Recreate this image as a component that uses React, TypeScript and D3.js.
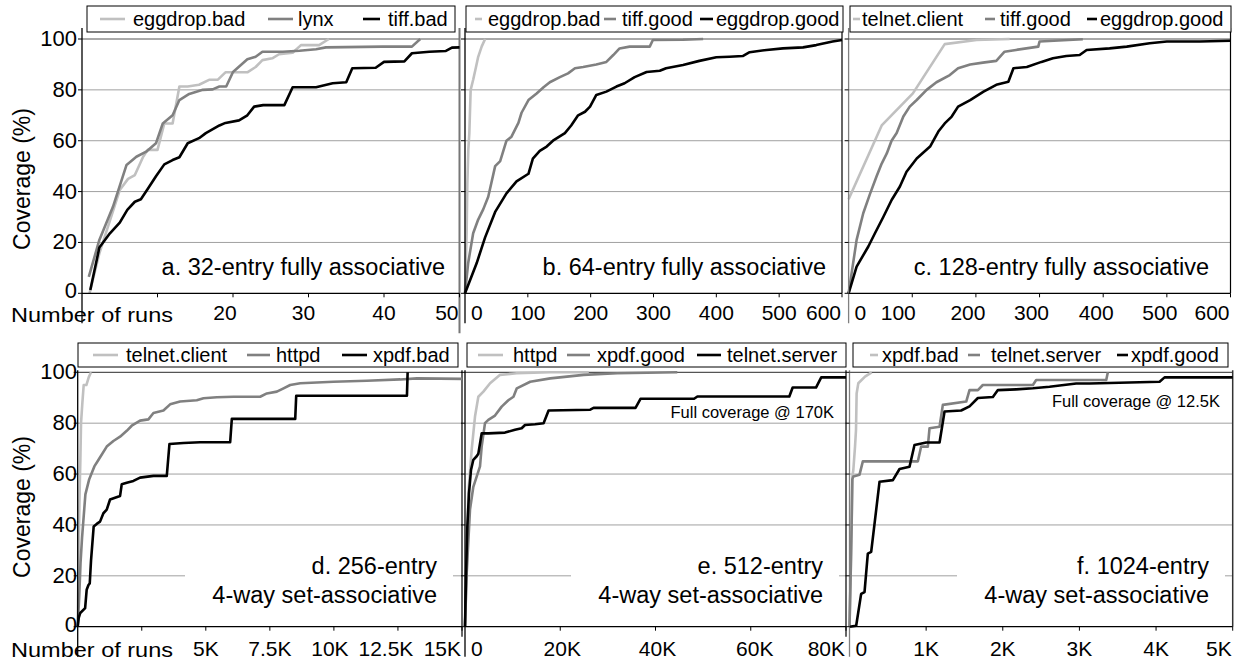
import * as d3 from "d3";

const LIGHT = "#c0c0c0";
const MID = "#808080";
const DARK = "#000000";
const FONT = "'Liberation Sans', Arial, Helvetica, sans-serif";

// ---- data: [number of runs, coverage %] ----
const aEggdropBad = [[1,0],[2.3,15.7],[5,40.6],[6.1,45],[7,46.5],[8.1,53.7],[8.7,56.4],[10,56.4],[10.9,66.8],[12,66.8],[12.9,81.3],[14,81.3],[15.5,82],[16.9,84],[18,84],[19,86.9],[21.9,86.9],[23,89],[23.9,91.7],[25.2,92.4],[26.1,94],[27.9,94.6],[29,97.6],[31.4,97.6],[32.7,100]];
const aLynx = [[0.9,6.5],[2.3,21],[4.1,34],[5.9,50.5],[7.2,53.7],[8.5,55.7],[9.8,59],[10.7,66.8],[12,70],[12.9,76],[14.2,78.4],[16,80],[17.3,80.2],[18.2,81.3],[19.1,81.3],[20,87],[21.9,92],[23,93],[23.9,95],[26.6,95],[28.8,95.4],[31,96],[32.3,96.7],[39.8,97],[43.7,97],[44.8,100]];
const aTiffBad = [[1.1,1.3],[2.3,18],[3.7,23.6],[5,27.8],[6,32.8],[7,36],[7.8,37],[8.7,41],[9.8,46],[10.9,50.7],[12,52.4],[12.9,53.5],[14,59],[15.5,61],[16.4,63],[18.2,66],[19,67],[20.8,68],[21.9,70],[22.8,73.4],[24,74],[26.8,74],[27.9,81],[31,81],[33.2,82.6],[35,83],[35.8,88.5],[38.9,88.7],[40,91],[42.7,91.2],[43.7,94.4],[46,95],[48.2,95.3],[49,96.6],[50,96.7]];

const bEggdropBad = [[0,0],[1,9],[2.6,23.6],[3.7,43],[5.3,56.5],[6.9,63],[9,80],[13,84],[17.5,89],[21,93],[26.5,97],[32,100]];
const bTiffGood = [[0,0],[5,11.8],[13,23.6],[21,29],[29,33],[37,38],[48,50],[56,52],[66,60],[74,61.6],[85,67],[90,71],[101,76],[114,78.6],[125,81],[135,83],[151,85],[164,86.5],[175,88.5],[188,89],[209,90],[225,91],[236,93.7],[246,96.3],[262,97],[294,97],[299,99.6],[347,99.7],[379,100]];
const bEggdropGood = [[0,0],[18.5,11.8],[32,22],[48,32],[66,39.3],[82,44],[101,47],[108,53],[119,56],[130,57.7],[140,60],[159,63],[169,66],[180,70],[191,71.4],[199,73.4],[209,78],[225,79.3],[241,81.3],[254,82.6],[270,85],[289,87],[310,87.5],[320,88.5],[347,89.8],[373,91.4],[400,92.8],[421,93],[442,93.3],[453,94.8],[480,95.7],[506,96.3],[538,96.7],[559,97.6],[585,99],[600,99.6]];

const cTelnetClient = [[0,37],[52,66],[101,78.6],[151,98],[201,99.6],[253,100]];
const cTiffGood = [[0,0],[12.6,21],[23,31.5],[33.5,39],[44,46],[52,51],[60,55],[67.5,60],[75.5,63],[86,69.5],[96,73.4],[107,76],[122.6,80],[138,83],[159,85.8],[172,88.5],[191,90],[211,90.7],[232,91.4],[245,95],[263,95.7],[298,97],[300,99],[368,99.9]];
const cEggdropGood = [[0,0],[12.6,10.5],[31,18.4],[41.4,23.6],[54.5,30],[67.6,36.7],[80.6,42],[91,47.8],[107,53],[128,57.7],[141,63.6],[151,66.8],[162,69.5],[172,73.4],[191,76],[212,79.3],[232,82],[251,83.2],[259,88.5],[280,89],[303,91],[321,92.4],[342,93.3],[363,93.7],[374,95.7],[410,96.3],[437,97],[473,98.3],[500,99],[552,99],[600,99.3]];

const dTelnetClient = [[0,0],[25,20],[52,39],[80,55],[104,65.5],[130,80],[182,88],[234,95],[338,95],[430,98],[520,100]];
const dHttpd = [[0,0],[60,12],[110,25],[170,35],[300,52],[450,58],[650,63],[807,65.5],[1133,70.8],[1393,73],[1654,74.7],[1914,77],[2109,79],[2435,81],[2760,81.5],[2956,84],[3346,85],[3607,87.4],[3997,88.5],[4648,89],[4909,89.8],[5430,90.2],[6081,90.4],[7122,90.4],[7383,91.7],[7773,92.4],[8034,93.7],[8294,95],[8685,95.7],[9987,96.3],[11289,96.7],[12591,97.2],[13242,97.6],[15000,97.4]];
const dXpdfBad = [[0,0],[40,3.5],[100,5.4],[290,7.3],[350,14.5],[420,16.4],[470,17],[520,26],[624,39.4],[754,40.5],[872,41.3],[1003,44.6],[1133,46],[1263,50],[1458,50.7],[1654,51.4],[1719,56],[1914,56.6],[2174,57.3],[2435,58.6],[2956,59.3],[3477,59.3],[3581,71.8],[4128,72.2],[4779,72.5],[5951,72.5],[6016,81.7],[8490,81.7],[8529,90.8],[12851,90.8],[12878,100]];

const eHttpd = [[0,0],[150,10],[350,19.8],[700,52.5],[1400,69.5],[2100,82.6],[2800,90.4],[3860,92.4],[5264,95.7],[7370,99],[10880,99.6],[17900,100],[26000,100]];
const eXpdfGood = [[0,0],[350,21],[1050,46],[1750,55],[2450,59],[3150,63],[3500,70.8],[4200,80],[4900,81.3],[6300,83],[7700,86.5],[9100,89],[10180,90.4],[10880,93.7],[13690,96.3],[17900,97.6],[24920,99],[31940,99.6],[44577,100]];
const eTelnetServer = [[0,0],[210,19.8],[490,39.4],[840,52.5],[1260,61.6],[1750,65.6],[2450,67],[2800,68],[3500,76],[4900,76],[8400,76.3],[10500,77.4],[11900,78],[12600,79.3],[14700,79.6],[16500,80],[17550,85],[26300,85.3],[27000,86],[35800,86],[36850,89.6],[48100,89.6],[48800,90.5],[68100,90.5],[68800,94],[73700,94],[74800,98],[80000,98]];

const fXpdfBad = [[0,0],[15,20],[30,45],[37,59],[50,61.6],[72,70.8],[85,77.4],[93,91.7],[115,95.7],[202,98.3],[289,100]];
const fTelnetServer = [[0,0],[15,20],[28,40],[37,58],[50,59],[130,59.7],[174,65],[892,65],[935,70.8],[1022,70.8],[1044,78],[1175,78.6],[1218,87.2],[1523,88.5],[1566,93],[1675,93],[1740,95],[2393,95],[2436,97],[3350,97],[3371,100]];
const fXpdfGood = [[0,0],[87,0.4],[152,12.9],[196,13.6],[239,28.7],[283,29.4],[392,57],[566,57.6],[653,62],[783,62.9],[848,71.4],[1001,72.4],[1175,72.4],[1240,84.6],[1457,85],[1566,86.6],[1675,89.9],[1871,90.3],[1936,93],[2175,93.3],[2393,93.7],[2610,94.3],[2958,95.6],[3132,95.6],[4046,96.3],[4111,98],[5000,98]];

// ---- names and ticks ----
const aNames = ["eggdrop.bad", "lynx", "tiff.bad"];
const bNames = ["eggdrop.bad", "tiff.good", "eggdrop.good"];
const cNames = ["telnet.client", "tiff.good", "eggdrop.good"];
const dNames = ["telnet.client", "httpd", "xpdf.bad"];
const eNames = ["httpd", "xpdf.good", "telnet.server"];
const fNames = ["xpdf.bad", "telnet.server", "xpdf.good"];

const yTicks = [0, 20, 40, 60, 80, 100];
const aTicks = [10, 20, 30, 40, 50];
const aTickLabels = [20, 30, 40, 50];
const bTicks = [100, 200, 300, 400, 500, 600];
const bTickLabels = [0, 100, 200, 300, 400, 500, 600];
const dTicks = [2500, 5000, 7500, 10000, 12500, 15000];
const dTickLabels = [5000, 7500, 10000, 12500, 15000];
const eTicks = [20000, 40000, 60000, 80000];
const eTickLabels = [0, 20000, 40000, 60000, 80000];
const fTicks = [1000, 2000, 3000, 4000, 5000];
const fTickLabels = [0, 1000, 2000, 3000, 4000, 5000];

const fmt = (v) => (v >= 1000 ? `${v / 1000}K` : `${v}`);
const colors = [LIGHT, MID, DARK];

// layout of the six panels
const TOP = { yt: 39, yb: 293.3, leg: [6, 32], legBase: 26, lab: 320 };
const BOT = { yt: 372.3, yb: 626.7, leg: [343, 367], legBase: 362, lab: 656 };

const panels = [
  { row: TOP, xr: [82, 459.5], max: 50, series: [aEggdropBad, aLynx, aTiffBad], names: aNames, ticks: aTicks, tickLabels: aTickLabels,
    shift: { 20: -8, 30: -5 }, legBox: [87, 455], legItems: [[100, 125, 133], [268, 293, 298], [363, 380, 388]], yLabels: true, axisColor: DARK,
    rightColor: "#777", rightW: 2, rightExt: 40, note: ["a. 32-entry fully associative"], noteRight: 445 },
  { row: TOP, xr: [465, 842], max: 600, series: [bEggdropBad, bTiffGood, bEggdropGood], names: bNames, ticks: bTicks, tickLabels: bTickLabels,
    shift: {}, legBox: [466, 843], legItems: [[475, 482, 488], [604, 616, 622], [700, 713, 716]], axisColor: DARK,
    rightColor: DARK, rightW: 1.2, rightExt: 0, note: ["b. 64-entry fully associative"], noteRight: 826 },
  { row: TOP, xr: [848.6, 1230.5], max: 600, series: [cTelnetClient, cTiffGood, cEggdropGood], names: cNames, ticks: bTicks, tickLabels: bTickLabels,
    shift: { 100: -14, 200: -8, 300: -8, 400: -7, 500: -7 }, legBox: [850, 1231], legItems: [[853, 860, 862], [985, 995, 1000], [1087, 1097, 1100]], axisColor: MID,
    rightColor: DARK, rightW: 1.2, rightExt: 0, note: ["c. 128-entry fully associative"], noteRight: 1209 },
  { row: BOT, xr: [77.7, 462], max: 15000, series: [dTelnetClient, dHttpd, dXpdfBad], names: dNames, ticks: dTicks, tickLabels: dTickLabels,
    shift: { 10000: -4, 12500: -12 }, legBox: [78, 458], legItems: [[93, 118, 126], [247, 270, 276], [342, 367, 373]], yLabels: true, axisColor: DARK,
    rightColor: "#333", rightW: 1.5, rightExt: 10, note: ["d. 256-entry", "4-way set-associative"], noteRight: 437 },
  { row: BOT, xr: [465, 846], max: 80000, series: [eHttpd, eXpdfGood, eTelnetServer], names: eNames, ticks: eTicks, tickLabels: eTickLabels,
    shift: { 20000: 2, 40000: 2, 60000: 4 }, legBox: [467, 846], legItems: [[478, 503, 513], [567, 590, 597], [697, 721, 727]], axisColor: DARK,
    rightColor: "#333", rightW: 1.5, rightExt: 10, note: ["e. 512-entry", "4-way set-associative"], noteRight: 823,
    extra: "Full coverage @ 170K", extraY: 418 },
  { row: BOT, xr: [849.5, 1232.7], max: 5000, series: [fXpdfBad, fTelnetServer, fXpdfGood], names: fNames, ticks: fTicks, tickLabels: fTickLabels,
    shift: {}, legBox: [853, 1228], legItems: [[870, 878, 882], [968, 980, 991], [1117, 1128, 1131]], axisColor: MID,
    rightColor: "#333", rightW: 1.5, rightExt: 0, note: ["f. 1024-entry", "4-way set-associative"], noteRight: 1209,
    extra: "Full coverage @ 12.5K", extraY: 407 },
];

function Panel({ p }) {
  const { yt, yb } = p.row;
  const x = d3.scaleLinear().domain([0, p.max]).range(p.xr);
  const y = d3.scaleLinear().domain([0, 100]).range([yb, yt]);
  const line = d3.line().x((d) => x(d[0])).y((d) => y(d[1]));
  const [x0, x1] = p.xr;
  const topExt = p.row === TOP ? 11 : 2;
  const twoLine = p.note.length > 1;

  return (
    <g>
      {/* grid */}
      {yTicks.filter((t) => t > 0 && t < 100).map((t) => (
        <line key={t} x1={x0} x2={x1} y1={y(t)} y2={y(t)} stroke="#a0a0a0" strokeWidth={1} />
      ))}
      {twoLine && (
        <rect x={p.noteRight - 252} y={y(20) - 22} width={268} height={60} fill="#fff" />
      )}
      {/* frame */}
      <line x1={x0} x2={x1} y1={yt} y2={yt} stroke="#555" strokeWidth={1.2} />
      <line x1={x1} x2={x1} y1={yt - topExt} y2={yb + p.rightExt} stroke={p.rightColor} strokeWidth={p.rightW} />

      {/* series */}
      {p.series.map((s, i) => (
        <path key={i} d={line(s)} fill="none" stroke={colors[i]} strokeWidth={2.6} strokeLinejoin="round" />
      ))}

      {/* axes */}
      <line x1={x0} x2={x0} y1={yt - topExt} y2={yb + 30} stroke={p.axisColor} strokeWidth={1.3} />
      <line x1={x0} x2={x1} y1={yb} y2={yb} stroke={DARK} strokeWidth={1.3} />
      {yTicks.map((t) => (
        <line key={t} x1={x0 - 4} x2={x0} y1={y(t)} y2={y(t)} stroke={DARK} strokeWidth={1} />
      ))}
      {p.ticks.map((t) => (
        <line key={t} x1={x(t)} x2={x(t)} y1={yb} y2={yb + 4} stroke={DARK} strokeWidth={1} />
      ))}
      {p.tickLabels.map((t, i) => {
        const last = i === p.tickLabels.length - 1;
        const anchor = t === 0 ? "start" : last ? "end" : "middle";
        const tx = t === 0 ? x0 + 6 : last ? x1 - 1 : x(t) + (p.shift[t] || 0);
        return (
          <text key={t} x={tx} y={p.row.lab} textAnchor={anchor} fontSize={21} fontFamily={FONT}>{fmt(t)}</text>
        );
      })}
      {p.yLabels && yTicks.map((t) => (
        <text key={t} x={77} y={y(t) + (t === 0 ? 5 : 7)} textAnchor="end" fontSize={22} fontFamily={FONT}>{t}</text>
      ))}

      {/* notes */}
      {p.note.map((n, i) => (
        <text key={n} x={p.noteRight} y={twoLine ? 574 + i * 29 : 275} textAnchor="end" fontSize={23.5} fontFamily={FONT}>{n}</text>
      ))}
      {p.extra && (
        <text x={p.noteRight + 11} y={p.extraY} textAnchor="end" fontSize={16.5} fontFamily={FONT}>{p.extra}</text>
      )}

      {/* legend */}
      <rect x={p.legBox[0]} y={p.row.leg[0]} width={p.legBox[1] - p.legBox[0]} height={p.row.leg[1] - p.row.leg[0]}
        fill="#fff" stroke={DARK} strokeWidth={1} />
      {p.legItems.map(([l1, l2, tx], i) => (
        <g key={i}>
          <line x1={l1} x2={l2} y1={p.row.legBase - 7} y2={p.row.legBase - 7} stroke={colors[i]} strokeWidth={2.6} />
          <text x={tx} y={p.row.legBase} fontSize={20} fontFamily={FONT}>{p.names[i]}</text>
        </g>
      ))}
    </g>
  );
}

export default function App() {
  return (
    <svg width={1239} height={664} style={{ position: "absolute", left: 0, top: 0, background: "#fff" }}>
      <rect width={1239} height={664} fill="#fff" />
      {panels.map((p, i) => <Panel key={i} p={p} />)}
      <text x={11} y={TOP.lab + 2} fontSize={21} textLength={162} lengthAdjust="spacingAndGlyphs" fontFamily={FONT}>Number of runs</text>
      <text x={11} y={BOT.lab + 1} fontSize={21} textLength={162} lengthAdjust="spacingAndGlyphs" fontFamily={FONT}>Number of runs</text>
      <text transform="translate(30,179) rotate(-90)" textAnchor="middle" fontSize={23} fontFamily={FONT}>Coverage (%)</text>
      <text transform="translate(30,507) rotate(-90)" textAnchor="middle" fontSize={23} fontFamily={FONT}>Coverage (%)</text>
    </svg>
  );
}
